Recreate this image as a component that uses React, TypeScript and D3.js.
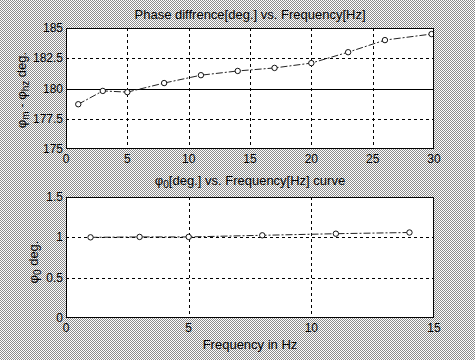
import { useEffect, useRef } from 'react';
import * as d3 from 'd3';

// top plot: phase difference vs frequency
const freqTop = [1, 3, 5, 8, 11, 14, 17, 20, 23, 26, 29.8];
const phaseDiff = [178.7, 179.8, 179.7, 180.45, 181.1, 181.45, 181.7, 182.1, 183.0, 184.0, 184.5];
const topXTicks = [0, 5, 10, 15, 20, 25, 30];
const topYTicks = [175, 177.5, 180, 182.5, 185];
const topYLabels = ['175', '177.5', '180', '182.5', '185'];
const refLine = [180];

// bottom plot: phi0 vs frequency
const freqBottom = [1, 3, 5, 8, 11, 14];
const phi0 = [1.0, 1.005, 1.005, 1.025, 1.045, 1.06];
const botXTicks = [0, 5, 10, 15];
const botYTicks = [0, 0.5, 1, 1.5];
const botYLabels = ['0', '0.5', '1', '1.5'];

const FONT = 'Arial, "Liberation Sans", sans-serif';

export default function App() {
  const svgRef = useRef<SVGSVGElement>(null);

  useEffect(() => {
    document.body.style.margin = '0';
    if (!svgRef.current) return;
    const svg = d3.select(svgRef.current);
    svg.selectAll('*').remove();

    // dithered gray backdrop
    const defs = svg.append('defs');
    const pat = defs.append('pattern')
      .attr('id', 'dither')
      .attr('patternUnits', 'userSpaceOnUse')
      .attr('width', 2)
      .attr('height', 2);
    pat.append('rect').attr('width', 2).attr('height', 2).attr('fill', '#ffffff');
    pat.append('rect').attr('x', 0).attr('y', 0).attr('width', 1).attr('height', 1).attr('fill', '#8c8c8c');
    pat.append('rect').attr('x', 1).attr('y', 1).attr('width', 1).attr('height', 1).attr('fill', '#8c8c8c');

    svg.append('rect').attr('width', 475).attr('height', 360).attr('fill', 'url(#dither)');

    function panel(opts: {
      id: string;
      xs: number[]; ys: number[];
      xDomain: [number, number]; yDomain: [number, number];
      top: number; bottom: number;
      xTicks: number[]; yTicks: number[]; yLabels: string[];
      solidY?: number[];
    }) {
      const x = d3.scaleLinear().domain(opts.xDomain).range([66, 434]);
      const y = d3.scaleLinear().domain(opts.yDomain).range([opts.bottom, opts.top]);

      defs.append('clipPath').attr('id', opts.id)
        .append('rect')
        .attr('x', 66).attr('y', opts.top)
        .attr('width', 368).attr('height', opts.bottom - opts.top);

      svg.append('rect')
        .attr('x', 66).attr('y', opts.top)
        .attr('width', 368).attr('height', opts.bottom - opts.top)
        .attr('fill', '#fff');

      const g = svg.append('g');
      // grid
      const inner = opts.xTicks.slice(1, -1);
      g.selectAll('.vg').data(inner).join('line')
        .attr('x1', (d) => Math.round(x(d)) + 0.5).attr('x2', (d) => Math.round(x(d)) + 0.5)
        .attr('y1', opts.top).attr('y2', opts.bottom)
        .attr('stroke', '#000').attr('stroke-dasharray', '3,3');
      const innerY = opts.yTicks.slice(1, -1).filter((v) => !(opts.solidY || []).includes(v));
      g.selectAll('.hg').data(innerY).join('line')
        .attr('y1', (d) => Math.round(y(d)) + 0.5).attr('y2', (d) => Math.round(y(d)) + 0.5)
        .attr('x1', 66).attr('x2', 434)
        .attr('stroke', '#000').attr('stroke-dasharray', '3,3');
      g.selectAll('.sl').data(opts.solidY || []).join('line')
        .attr('y1', (d) => Math.round(y(d)) + 0.5).attr('y2', (d) => Math.round(y(d)) + 0.5)
        .attr('x1', 66).attr('x2', 434)
        .attr('stroke', '#000');

      // data
      const pts = opts.xs.map((v, i) => [v, opts.ys[i]] as [number, number]);
      const line = d3.line<[number, number]>().x((d) => x(d[0])).y((d) => y(d[1]));
      const dg = g.append('g').attr('clip-path', `url(#${opts.id})`);
      dg.append('path')
        .attr('d', line(pts))
        .attr('fill', 'none')
        .attr('stroke', '#222')
        .attr('stroke-dasharray', '7,2,2,2');
      dg.selectAll('circle').data(pts).join('circle')
        .attr('cx', (d) => x(d[0])).attr('cy', (d) => y(d[1]))
        .attr('r', 2.7)
        .attr('fill', '#fff')
        .attr('stroke', '#111');

      // frame
      svg.append('rect')
        .attr('x', 66.5).attr('y', opts.top + 0.5)
        .attr('width', 367).attr('height', opts.bottom - opts.top - 1)
        .attr('fill', 'none').attr('stroke', '#000');

      // tick labels
      svg.selectAll(null).data(opts.xTicks).join('text')
        .attr('x', (d) => x(d)).attr('y', opts.bottom + 14)
        .attr('text-anchor', 'middle')
        .attr('font-family', FONT).attr('font-size', 12).attr('fill', '#000')
        .text((d) => String(d));
      svg.selectAll(null).data(opts.yTicks).join('text')
        .attr('x', 63).attr('y', (d) => y(d) + 4)
        .attr('text-anchor', 'end')
        .attr('font-family', FONT).attr('font-size', 12).attr('fill', '#000')
        .text((_d, i) => opts.yLabels[i]);
    }

    panel({
      id: 'clipTop', xs: freqTop, ys: phaseDiff,
      xDomain: [0, 30], yDomain: [175, 185], top: 28, bottom: 149,
      xTicks: topXTicks, yTicks: topYTicks, yLabels: topYLabels, solidY: refLine,
    });
    panel({
      id: 'clipBot', xs: freqBottom, ys: phi0,
      xDomain: [0, 15], yDomain: [0, 1.5], top: 197, bottom: 318,
      xTicks: botXTicks, yTicks: botYTicks, yLabels: botYLabels,
    });

    // titles
    svg.append('text')
      .attr('x', 250).attr('y', 19).attr('text-anchor', 'middle')
      .attr('font-family', FONT).attr('font-size', 13).attr('fill', '#000')
      .text('Phase diffrence[deg.] vs. Frequency[Hz]');

    const t2 = svg.append('text')
      .attr('x', 250).attr('y', 185).attr('text-anchor', 'middle')
      .attr('font-family', FONT).attr('font-size', 13).attr('fill', '#000');
    t2.append('tspan').text('φ');
    t2.append('tspan').attr('dy', 3).attr('font-size', 10).text('0');
    t2.append('tspan').attr('dy', -3).text('[deg.] vs. Frequency[Hz] curve');

    svg.append('text')
      .attr('x', 250).attr('y', 349).attr('text-anchor', 'middle')
      .attr('font-family', FONT).attr('font-size', 13).attr('fill', '#000')
      .text('Frequency in Hz');

    // y labels (rotated)
    const yl1 = svg.append('text')
      .attr('transform', 'translate(26,90) rotate(-90)')
      .attr('text-anchor', 'middle')
      .attr('font-family', FONT).attr('font-size', 13).attr('fill', '#000');
    yl1.append('tspan').text('φ');
    yl1.append('tspan').attr('dy', 3).attr('font-size', 10).text('m');
    yl1.append('tspan').attr('dy', -3).text(' - φ');
    yl1.append('tspan').attr('dy', 3).attr('font-size', 10).text('hz');
    yl1.append('tspan').attr('dy', -3).text(' deg.');

    const yl2 = svg.append('text')
      .attr('transform', 'translate(38,262) rotate(-90)')
      .attr('text-anchor', 'middle')
      .attr('font-family', FONT).attr('font-size', 13).attr('fill', '#000');
    yl2.append('tspan').text('φ');
    yl2.append('tspan').attr('dy', 3).attr('font-size', 10).text('0');
    yl2.append('tspan').attr('dy', -3).text(' deg.');
  }, []);

  return (
    <svg
      ref={svgRef}
      width={475}
      height={360}
      style={{ position: 'absolute', left: 0, top: 0, display: 'block' }}
    />
  );
}
